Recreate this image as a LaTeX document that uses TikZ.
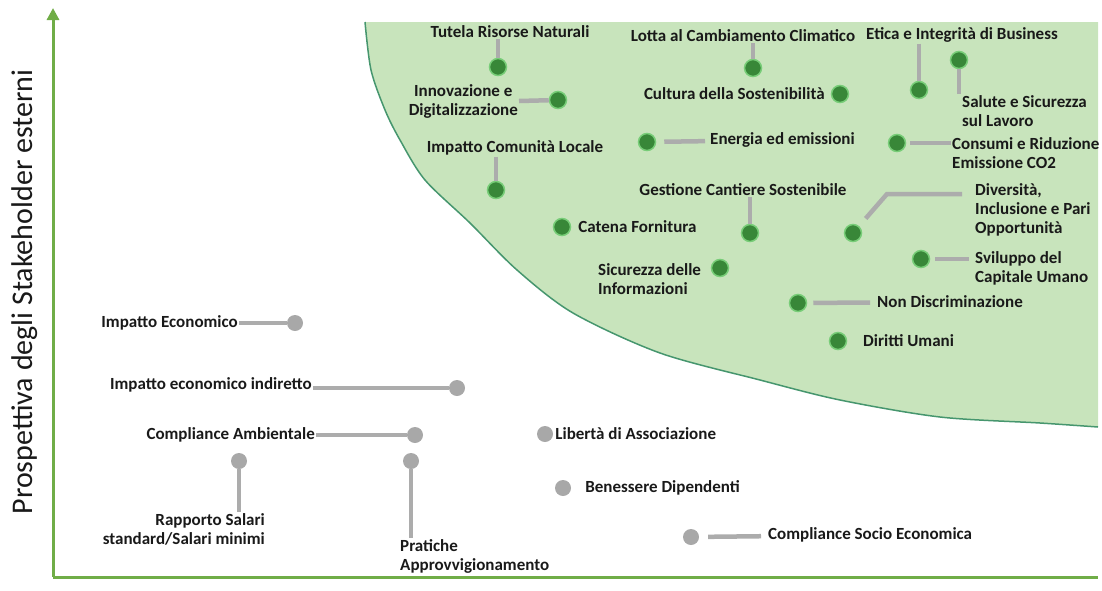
\documentclass[tikz,border=0pt]{standalone}
\usepackage{fontspec}
\setmainfont{Carlito}
\usetikzlibrary{positioning, arrows.meta}

\definecolor{zonefill}{RGB}{200,228,188}
\definecolor{zoneline}{RGB}{70,150,110}
\definecolor{axisgreen}{RGB}{112,173,71}
\definecolor{dotgreen}{RGB}{56,135,56}
\definecolor{halo}{RGB}{120,205,120}
\definecolor{dotgray}{RGB}{168,168,168}
\definecolor{linkgray}{RGB}{172,172,172}

\begin{document}
\begin{tikzpicture}[
          x=1pt, y=-1pt,
          gdot/.style = {circle, fill=dotgreen, draw=halo, line width=1.5pt, minimum size=17pt, inner sep=0pt},
          ydot/.style = {circle, fill=dotgray, minimum size=16pt, inner sep=0pt},
          lbl/.style = {font=\bfseries\fontsize{17}{19}\selectfont, text=black!90, inner sep=1pt, align=left},
          link/.style = {draw=linkgray, line width=4.5pt},
          axis/.style = {draw=axisgreen, line width=3pt}
         ]
        \useasboundingbox (0,0) rectangle (1102,590);

        % Zona materiale
        \fill[zonefill] plot[smooth] coordinates {(365,22) (371,70) (385,110) (400,140) (425,180) (470,223) (517,270) (573,313) (660,353) (760,380) (840,400) (940,417) (1040,423) (1098,427)} -- (1098,22) -- cycle;
        \draw[zoneline, line width=1.5pt] plot[smooth] coordinates {(365,22) (371,70) (385,110) (400,140) (425,180) (470,223) (517,270) (573,313) (660,353) (760,380) (840,400) (940,417) (1040,423) (1098,427)};

        % Assi
        \coordinate (origin) at (53,577);
        \coordinate (ytop) at (53,8);
        \coordinate (xend) at (1098,577);
        \draw[axis, -{Triangle[length=12pt, width=12pt]}] (origin) -- (ytop);
        \draw[axis] (origin) -- (xend);
        \node[rotate=90, font=\fontsize{30}{34}\selectfont, text=black!90] (ylab) at (25,292) {Prospettiva degli Stakeholder esterni};

        % Temi materiali (verde)
        \node[gdot] (tutD) at (498,67) {};
        \node[lbl] (tutL) at (510,32) {Tutela Risorse Naturali};
        \draw[link] (tutD |- tutL.south) -- (tutD);

        \node[gdot] (innD) at (558,100) {};
        \node[lbl, align=center, anchor=east] (innL) at (519,101) {Innovazione e\\Digitalizzazione};
        \draw[link] (innL.east) -- (innD);

        \node[gdot] (comD) at (496,190) {};
        \node[lbl] (comL) at (515,148) {Impatto Comunità Locale};
        \draw[link] (comD |- comL.south) -- (comD);

        \node[gdot] (catD) at (562,227) {};
        \node[lbl, right=6pt of catD] (catL) {Catena Fornitura};

        \node[gdot] (lotD) at (753,68) {};
        \node[lbl] (lotL) at (743,36) {Lotta al Cambiamento Climatico};
        \draw[link] (lotD |- lotL.south) -- (lotD);

        \node[gdot] (culD) at (840,94) {};
        \node[lbl, left=5pt of culD] (culL) {Cultura della Sostenibilità};

        \node[gdot] (eneD) at (647,142) {};
        \node[lbl, anchor=west] (eneL) at (709,140) {Energia ed emissioni};
        \draw[link, shorten <=8pt, shorten >=4pt] (eneD) -- (eneL);

        \node[gdot] (gesD) at (750,233) {};
        \node[lbl] (gesL) at (743,190) {Gestione Cantiere Sostenibile};
        \draw[link] (gesD |- gesL.south) -- (gesD);

        \node[gdot] (sicD) at (720,268) {};
        \node[lbl, anchor=west] (sicL) at (597,279) {Sicurezza delle\\Informazioni};

        \node[gdot] (etiD) at (919,90) {};
        \node[lbl] (etiL) at (962,35) {Etica e Integrità di Business};
        \draw[link] (etiD |- etiL.south) -- (etiD);

        \node[gdot] (salD) at (959,60) {};
        \node[lbl, anchor=north west] (salL) at (961,94) {Salute e Sicurezza\\sul Lavoro};
        \draw[link] (salD) -- (salD |- salL.north);

        \node[gdot] (conD) at (897,143) {};
        \node[lbl, anchor=west] (conL) at (951,153) {Consumi e Riduzione\\Emissione CO2};
        \draw[link, shorten <=4pt] (conD) -- (conD -| conL.west);

        \node[gdot] (divD) at (853,233) {};
        \coordinate (divK) at (887,194);
        \node[lbl, anchor=west] (divL) at (974,210) {Diversità,\\Inclusione e Pari\\Opportunità};
        \draw[link, shorten <=10pt, shorten >=12pt] (divD) -- (divK) -- (divK -| divL.west);

        \node[gdot] (svD) at (921,259) {};
        \node[lbl, anchor=west] (svL) at (974,268) {Sviluppo del\\Capitale Umano};
        \draw[link, shorten <=5pt, shorten >=5pt] (svD) -- (svD -| svL.west);

        \node[gdot] (ndD) at (798,303) {};
        \node[lbl, anchor=west] (ndL) at (876,302) {Non Discriminazione};
        \draw[link, shorten <=6pt, shorten >=6pt] (ndD) -- (ndL);

        \node[gdot] (duD) at (838,341) {};
        \node[lbl, anchor=west] (duL) at (862,341) {Diritti Umani};

        % Temi non materiali (grigio)
        \node[ydot] (ecoD) at (295,323) {};
        \node[lbl, anchor=east] (ecoL) at (239,323) {Impatto Economico};
        \draw[link] (ecoL) -- (ecoD);

        \node[ydot] (indD) at (457,388) {};
        \node[lbl, anchor=east] (indL) at (313,385) {Impatto economico indiretto};
        \draw[link] (indL.east |- indD) -- (indD);

        \node[ydot] (ambD) at (415,435) {};
        \node[lbl, anchor=east] (ambL) at (316,435) {Compliance Ambientale};
        \draw[link] (ambL) -- (ambD);

        \node[ydot] (rapD) at (239,461) {};
        \node[lbl, align=right, anchor=east] (rapL) at (266,529) {Rapporto Salari\\standard/Salari minimi};
        \draw[link] (rapD) -- (rapD |- rapL.north);

        \node[ydot] (praD) at (411,461) {};
        \node[lbl, anchor=west] (praL) at (399,556) {Pratiche\\Approvvigionamento};
        \draw[link] (praD) -- (praD |- praL.north);

        \node[ydot] (libD) at (545,434) {};
        \node[lbl, right=1pt of libD] (libL) {Libertà di Associazione};

        \node[ydot] (benD) at (563,488) {};
        \node[lbl, right=13pt of benD] (benL) {Benessere Dipendenti};

        \node[ydot] (cseD) at (691,537) {};
        \node[lbl, anchor=west] (cseL) at (767,535) {Compliance Socio Economica};
        \draw[link, shorten <=9pt, shorten >=6pt] (cseD) -- (cseL);

\end{tikzpicture}
\end{document}
